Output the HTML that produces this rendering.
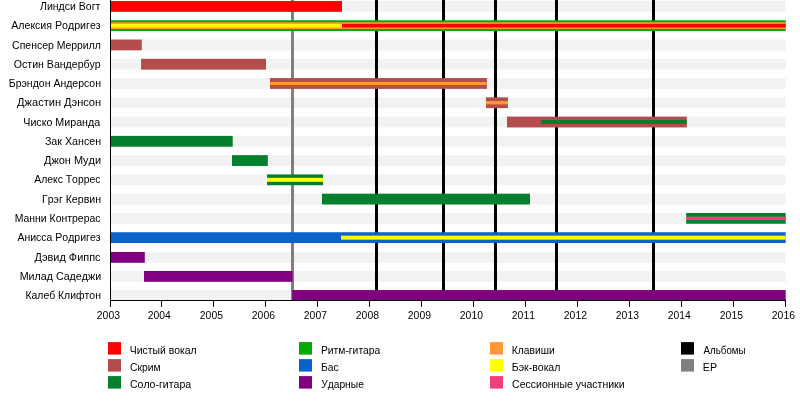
<!DOCTYPE html><html><head><meta charset="utf-8"><style>html,body{margin:0;padding:0;background:#fff;overflow:hidden}svg{display:block}text{font-family:"Liberation Sans",sans-serif;font-kerning:none}</style></head><body>
<svg width="800" height="420" viewBox="0 0 800 420">
<rect x="0" y="0" width="800" height="420" fill="#fff"/>
<rect x="110.5" y="1.00" width="675.20" height="10.8" fill="#f2f2f2"/>
<rect x="110.5" y="20.27" width="675.20" height="10.8" fill="#f2f2f2"/>
<rect x="110.5" y="39.54" width="675.20" height="10.8" fill="#f2f2f2"/>
<rect x="110.5" y="58.81" width="675.20" height="10.8" fill="#f2f2f2"/>
<rect x="110.5" y="78.08" width="675.20" height="10.8" fill="#f2f2f2"/>
<rect x="110.5" y="97.35" width="675.20" height="10.8" fill="#f2f2f2"/>
<rect x="110.5" y="116.62" width="675.20" height="10.8" fill="#f2f2f2"/>
<rect x="110.5" y="135.89" width="675.20" height="10.8" fill="#f2f2f2"/>
<rect x="110.5" y="155.16" width="675.20" height="10.8" fill="#f2f2f2"/>
<rect x="110.5" y="174.43" width="675.20" height="10.8" fill="#f2f2f2"/>
<rect x="110.5" y="193.70" width="675.20" height="10.8" fill="#f2f2f2"/>
<rect x="110.5" y="212.97" width="675.20" height="10.8" fill="#f2f2f2"/>
<rect x="110.5" y="232.24" width="675.20" height="10.8" fill="#f2f2f2"/>
<rect x="110.5" y="252.01" width="675.20" height="10.8" fill="#f2f2f2"/>
<rect x="110.5" y="271.00" width="675.20" height="10.8" fill="#f2f2f2"/>
<rect x="110.5" y="290.05" width="675.20" height="10.8" fill="#f2f2f2"/>
<rect x="375" y="0" width="3" height="300" fill="#000000"/>
<rect x="442" y="0" width="3" height="300" fill="#000000"/>
<rect x="494" y="0" width="3" height="300" fill="#000000"/>
<rect x="555" y="0" width="3" height="300" fill="#000000"/>
<rect x="652" y="0" width="3" height="300" fill="#000000"/>
<rect x="291" y="0" width="3" height="300" fill="#808080"/>
<rect x="110.50" y="1.00" width="231.50" height="10.80" fill="#ff0000"/>
<rect x="110.50" y="20.27" width="675.20" height="10.80" fill="#00aa00"/>
<rect x="110.50" y="22.27" width="675.20" height="6.80" fill="#ff9933"/>
<rect x="110.50" y="23.87" width="231.50" height="3.60" fill="#ffff00"/>
<rect x="342.00" y="23.87" width="443.70" height="3.60" fill="#ff0000"/>
<rect x="110.50" y="39.54" width="31.30" height="10.80" fill="#b44c4c"/>
<rect x="141.10" y="58.81" width="124.90" height="10.80" fill="#b44c4c"/>
<rect x="270.00" y="78.08" width="216.90" height="10.80" fill="#b44c4c"/>
<rect x="270.00" y="81.98" width="216.90" height="3.00" fill="#ff9933"/>
<rect x="486.00" y="97.35" width="21.90" height="10.80" fill="#b44c4c"/>
<rect x="486.00" y="101.10" width="21.90" height="3.30" fill="#ff9933"/>
<rect x="507.00" y="116.62" width="179.80" height="10.80" fill="#b44c4c"/>
<rect x="541.00" y="120.02" width="145.80" height="4.00" fill="#05802c"/>
<rect x="110.50" y="135.89" width="122.20" height="10.80" fill="#05802c"/>
<rect x="232.00" y="155.16" width="35.80" height="10.80" fill="#05802c"/>
<rect x="267.00" y="174.43" width="56.00" height="10.80" fill="#05802c"/>
<rect x="267.00" y="177.83" width="56.00" height="4.00" fill="#ffff00"/>
<rect x="322.00" y="193.70" width="208.00" height="10.80" fill="#05802c"/>
<rect x="686.20" y="212.97" width="99.50" height="10.80" fill="#05802c"/>
<rect x="686.20" y="216.67" width="99.50" height="3.40" fill="#f0407a"/>
<rect x="110.50" y="232.24" width="675.20" height="10.80" fill="#0c62cc"/>
<rect x="341.00" y="235.64" width="444.70" height="4.00" fill="#ffff00"/>
<rect x="110.50" y="252.01" width="34.30" height="10.80" fill="#800080"/>
<rect x="144.00" y="271.00" width="148.60" height="10.80" fill="#800080"/>
<rect x="292.20" y="290.05" width="493.50" height="10.80" fill="#800080"/>
<rect x="110" y="0" width="1" height="301" fill="#000"/>
<rect x="110" y="300" width="676" height="1" fill="#000"/>
<g fill="#000" style="will-change:transform">
<rect x="110" y="300" width="1" height="6.8" fill="#000"/>
<text x="96.83" y="318.90" font-size="11" textLength="23.13" lengthAdjust="spacingAndGlyphs">2003</text>
<rect x="161" y="300" width="1" height="6.8" fill="#000"/>
<text x="147.83" y="318.90" font-size="11" textLength="22.89" lengthAdjust="spacingAndGlyphs">2004</text>
<rect x="213" y="300" width="1" height="6.8" fill="#000"/>
<text x="199.83" y="318.90" font-size="11" textLength="23.13" lengthAdjust="spacingAndGlyphs">2005</text>
<rect x="265" y="300" width="1" height="6.8" fill="#000"/>
<text x="251.83" y="318.90" font-size="11" textLength="23.13" lengthAdjust="spacingAndGlyphs">2006</text>
<rect x="317" y="300" width="1" height="6.8" fill="#000"/>
<text x="303.83" y="318.90" font-size="11" textLength="23.13" lengthAdjust="spacingAndGlyphs">2007</text>
<rect x="369" y="300" width="1" height="6.8" fill="#000"/>
<text x="355.83" y="318.90" font-size="11" textLength="23.13" lengthAdjust="spacingAndGlyphs">2008</text>
<rect x="421" y="300" width="1" height="6.8" fill="#000"/>
<text x="407.83" y="318.90" font-size="11" textLength="23.13" lengthAdjust="spacingAndGlyphs">2009</text>
<rect x="473" y="300" width="1" height="6.8" fill="#000"/>
<text x="459.83" y="318.90" font-size="11" textLength="23.13" lengthAdjust="spacingAndGlyphs">2010</text>
<rect x="525" y="300" width="1" height="6.8" fill="#000"/>
<text x="511.83" y="318.90" font-size="11" textLength="23.13" lengthAdjust="spacingAndGlyphs">2011</text>
<rect x="577" y="300" width="1" height="6.8" fill="#000"/>
<text x="563.83" y="318.90" font-size="11" textLength="23.13" lengthAdjust="spacingAndGlyphs">2012</text>
<rect x="629" y="300" width="1" height="6.8" fill="#000"/>
<text x="615.83" y="318.90" font-size="11" textLength="23.13" lengthAdjust="spacingAndGlyphs">2013</text>
<rect x="681" y="300" width="1" height="6.8" fill="#000"/>
<text x="667.83" y="318.90" font-size="11" textLength="22.89" lengthAdjust="spacingAndGlyphs">2014</text>
<rect x="733" y="300" width="1" height="6.8" fill="#000"/>
<text x="719.83" y="318.90" font-size="11" textLength="23.13" lengthAdjust="spacingAndGlyphs">2015</text>
<rect x="785" y="300" width="1" height="6.8" fill="#000"/>
<text x="771.83" y="318.90" font-size="11" textLength="23.13" lengthAdjust="spacingAndGlyphs">2016</text>
<text x="40.00" y="10.00" font-size="11" textLength="60.36" lengthAdjust="spacingAndGlyphs">Линдси Вогт</text>
<text x="11.20" y="29.27" font-size="11" textLength="89.49" lengthAdjust="spacingAndGlyphs">Алексия Родригез</text>
<text x="12.12" y="48.54" font-size="11" textLength="88.78" lengthAdjust="spacingAndGlyphs">Спенсер Меррилл</text>
<text x="13.82" y="67.81" font-size="11" textLength="86.95" lengthAdjust="spacingAndGlyphs">Остин Вандербур</text>
<text x="8.74" y="87.08" font-size="11" textLength="92.23" lengthAdjust="spacingAndGlyphs">Брэндон Андерсон</text>
<text x="17.10" y="106.35" font-size="11" textLength="84.03" lengthAdjust="spacingAndGlyphs">Джастин Дэнсон</text>
<text x="23.27" y="125.62" font-size="11" textLength="76.91" lengthAdjust="spacingAndGlyphs">Чиско Миранда</text>
<text x="44.91" y="144.89" font-size="11" textLength="56.22" lengthAdjust="spacingAndGlyphs">Зак Хансен</text>
<text x="44.00" y="164.16" font-size="11" textLength="57.09" lengthAdjust="spacingAndGlyphs">Джон Муди</text>
<text x="34.30" y="183.43" font-size="11" textLength="66.18" lengthAdjust="spacingAndGlyphs">Алекс Торрес</text>
<text x="41.94" y="202.70" font-size="11" textLength="59.05" lengthAdjust="spacingAndGlyphs">Грэг Кервин</text>
<text x="14.75" y="221.97" font-size="11" textLength="85.79" lengthAdjust="spacingAndGlyphs">Манни Контрерас</text>
<text x="17.40" y="241.24" font-size="11" textLength="83.18" lengthAdjust="spacingAndGlyphs">Анисса Родригез</text>
<text x="34.60" y="260.51" font-size="11" textLength="65.90" lengthAdjust="spacingAndGlyphs">Дэвид Фиппс</text>
<text x="19.73" y="279.78" font-size="11" textLength="81.39" lengthAdjust="spacingAndGlyphs">Милад Садеджи</text>
<text x="25.45" y="299.05" font-size="11" textLength="75.48" lengthAdjust="spacingAndGlyphs">Калеб Клифтон</text>
<rect x="108" y="342.1" width="13" height="12.5" fill="#ff0000"/>
<text x="129.72" y="353.90" font-size="10.0" textLength="66.84" lengthAdjust="spacingAndGlyphs">Чистый вокал</text>
<rect x="108" y="359.1" width="13" height="12.5" fill="#b44c4c"/>
<text x="129.98" y="371.10" font-size="10.0" textLength="30.56" lengthAdjust="spacingAndGlyphs">Скрим</text>
<rect x="108" y="376.1" width="13" height="12.5" fill="#05802c"/>
<text x="129.97" y="388.20" font-size="10.0" textLength="61.14" lengthAdjust="spacingAndGlyphs">Соло-гитара</text>
<rect x="299" y="342.1" width="13" height="12.5" fill="#00aa00"/>
<text x="320.93" y="353.90" font-size="10.0" textLength="59.42" lengthAdjust="spacingAndGlyphs">Ритм-гитара</text>
<rect x="299" y="359.1" width="13" height="12.5" fill="#0c62cc"/>
<text x="320.93" y="371.10" font-size="10.0" textLength="17.66" lengthAdjust="spacingAndGlyphs">Бас</text>
<rect x="299" y="376.1" width="13" height="12.5" fill="#800080"/>
<text x="321.19" y="388.20" font-size="10.0" textLength="42.67" lengthAdjust="spacingAndGlyphs">Ударные</text>
<rect x="490" y="342.1" width="13" height="12.5" fill="#ff9933"/>
<text x="511.83" y="353.90" font-size="10.0" textLength="42.93" lengthAdjust="spacingAndGlyphs">Клавиши</text>
<rect x="490" y="359.1" width="13" height="12.5" fill="#ffff00"/>
<text x="511.81" y="371.10" font-size="10.0" textLength="48.53" lengthAdjust="spacingAndGlyphs">Бэк-вокал</text>
<rect x="490" y="376.1" width="13" height="12.5" fill="#f0407a"/>
<text x="512.07" y="388.20" font-size="10.0" textLength="112.55" lengthAdjust="spacingAndGlyphs">Сессионные участники</text>
<rect x="681" y="342.1" width="13" height="12.5" fill="#000000"/>
<text x="703.60" y="353.90" font-size="10.0" textLength="41.96" lengthAdjust="spacingAndGlyphs">Альбомы</text>
<rect x="681" y="359.1" width="13" height="12.5" fill="#808080"/>
<text x="702.80" y="371.10" font-size="10.0" textLength="14.23" lengthAdjust="spacingAndGlyphs">EP</text>
</g>
</svg></body></html>
